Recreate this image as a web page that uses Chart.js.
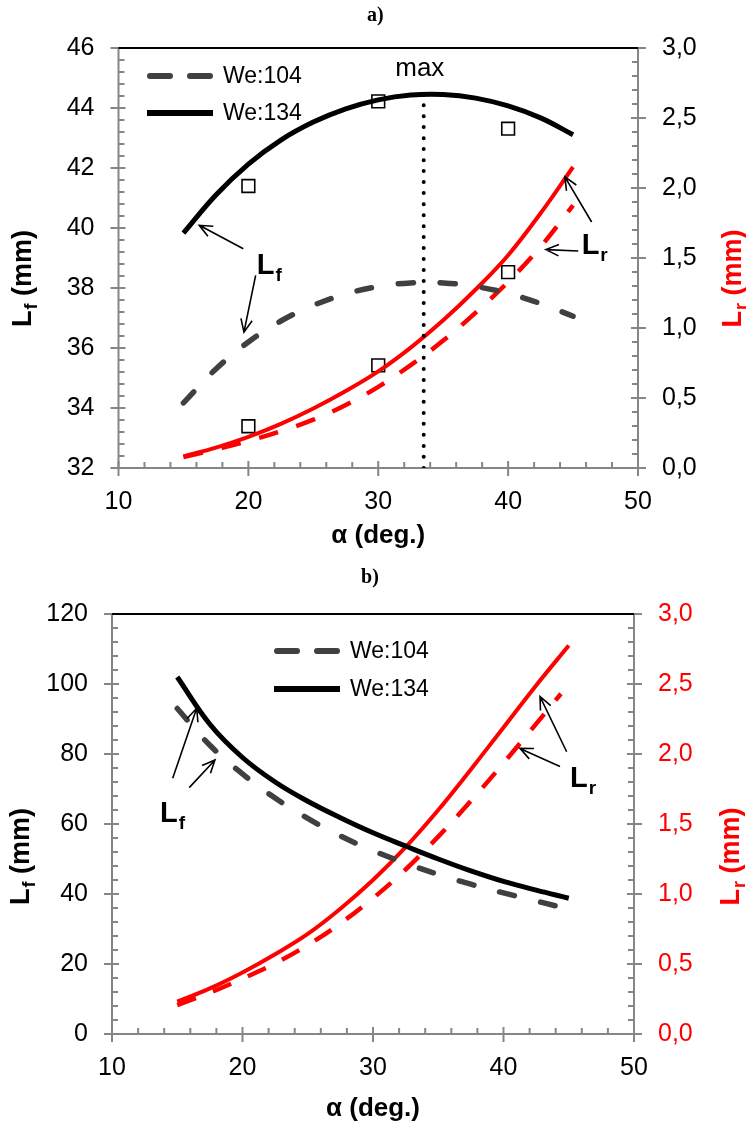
<!DOCTYPE html>
<html>
<head>
<meta charset="utf-8">
<title>L_f and L_r vs alpha</title>
<script src="https://cdn.jsdelivr.net/npm/chart.js@4.4.1/dist/chart.umd.min.js"></script>
<style>
  html, body { margin: 0; padding: 0; background: #fff; }
  #wrap { position: relative; width: 746px; height: 1125px; }
  .box { position: absolute; left: 0; width: 746px; }
  #boxA { top: 0; height: 556px; }
  #boxB { top: 560px; height: 565px; }
</style>
</head>
<body>
<div id="wrap">
  <div class="box" id="boxA"><canvas id="chartA" width="746" height="556"></canvas></div>
  <div class="box" id="boxB"><canvas id="chartB" width="746" height="565"></canvas></div>
</div>
<script>
// ---- data ----
// panel a)
const alphaA = [15, 17.5, 20, 22.5, 25, 27.5, 30, 32.5, 35, 37.5, 40, 42.5, 45];
const lfA104 = [34.17, 35.3, 36.2, 36.9, 37.42, 37.8, 38.05, 38.17, 38.17, 38.05, 37.82, 37.48, 37.06];
const lfA134 = [39.83, 41.1, 42.13, 42.93, 43.53, 43.97, 44.27, 44.43, 44.45, 44.33, 44.07, 43.67, 43.11];
const lrA104 = [0.079, 0.133, 0.193, 0.263, 0.345, 0.45, 0.58, 0.735, 0.91, 1.11, 1.33, 1.58, 1.876];
const lrA134 = [0.083, 0.145, 0.222, 0.315, 0.425, 0.55, 0.69, 0.86, 1.055, 1.275, 1.52, 1.82, 2.15];
const expAlpha = [20, 30, 40];
const expLfA = [41.4, 44.22, 43.31];
const expLrA = [0.298, 0.733, 1.399];
const maxAlpha = 33.5;
const maxLf = [32, 44.36];

// panel b)
const alphaB = [15, 17.5, 20, 22.5, 25, 27.5, 30, 32.5, 35, 37.5, 40, 42.5, 45];
const alphaB104 = [15, 17.5, 20, 22.5, 25, 27.5, 30, 32.5, 35, 37.5, 40, 42.5, 44];
const alphaBr104 = [15, 17.5, 20, 22.5, 25, 27.5, 30, 32.5, 35, 37.5, 40, 42.5, 44.4];
const lfB104 = [93, 82.5, 74.3, 67.4, 61.6, 56.6, 52.4, 48.8, 45.6, 42.8, 40.3, 38.0, 36.6];
const lfB134 = [102, 88.5, 79, 72, 66.5, 61.8, 57.5, 53.7, 50.0, 46.6, 43.6, 41.1, 38.8];
const lrB104 = [0.207, 0.295, 0.395, 0.505, 0.635, 0.79, 0.97, 1.175, 1.41, 1.665, 1.935, 2.215, 2.43];
const lrB134 = [0.231, 0.326, 0.44, 0.57, 0.715, 0.895, 1.10, 1.335, 1.60, 1.89, 2.19, 2.49, 2.775];

// tick settings
const xTicks = { min: 10, max: 50, step: 10, minor: 2 };
const lfTicksA = { min: 32, max: 46, step: 2, minor: 0.4 };
const lfTicksB = { min: 0, max: 120, step: 20, minor: 4 };
const lrTicks = { min: 0, max: 3, step: 0.5, minor: 0.1 };

const FONT = '"Liberation Sans", Arial, Helvetica, sans-serif';
const RED = '#ff0000';
const GREY = '#404040';

function pts(xs, ys) {
  return xs.map(function(x, i) { return { x: x, y: ys[i] }; });
}

function line(ctx, x1, y1, x2, y2) {
  ctx.beginPath();
  ctx.moveTo(x1, y1);
  ctx.lineTo(x2, y2);
  ctx.stroke();
}

// draws "L" + subscript + rest, centred (or left aligned) on x,y
function subText(ctx, main, sub, rest, x, y, size, color, rotate, center) {
  ctx.save();
  ctx.translate(x, y);
  if (rotate) ctx.rotate(-Math.PI / 2);
  const big = 'bold ' + size + 'px ' + FONT;
  const small = 'bold ' + Math.round(size * 0.66) + 'px ' + FONT;
  ctx.font = big;
  const w1 = ctx.measureText(main).width;
  const w3 = ctx.measureText(rest).width;
  ctx.font = small;
  const w2 = ctx.measureText(sub).width;
  let cx = center ? -(w1 + w2 + w3) / 2 : 0;
  const base = center ? size * 0.36 : 0;
  ctx.fillStyle = color;
  ctx.textAlign = 'left';
  ctx.textBaseline = 'alphabetic';
  ctx.font = big;
  ctx.fillText(main, cx, base);
  ctx.font = small;
  ctx.fillText(sub, cx + w1 + 1, base + size * 0.24);
  ctx.font = big;
  ctx.fillText(rest, cx + w1 + w2 + 1, base);
  ctx.restore();
}

function arrow(ctx, x1, y1, x2, y2) {
  const ang = Math.atan2(y2 - y1, x2 - x1);
  const head = 14, spread = 0.42;
  ctx.beginPath();
  ctx.moveTo(x1, y1);
  ctx.lineTo(x2, y2);
  ctx.moveTo(x2 - head * Math.cos(ang - spread), y2 - head * Math.sin(ang - spread));
  ctx.lineTo(x2, y2);
  ctx.lineTo(x2 - head * Math.cos(ang + spread), y2 - head * Math.sin(ang + spread));
  ctx.stroke();
}

// axis lines, crossing major ticks and inner minor ticks
function drawTicks(ctx, scale, t, side, a) {
  const n = Math.round((t.max - t.min) / t.minor);
  for (let i = 0; i <= n; i++) {
    const v = t.min + i * t.minor;
    const r = v / t.step;
    const major = Math.abs(r - Math.round(r)) < 1e-6;
    const p = scale.getPixelForValue(v);
    if (side === 'bottom') {
      if (major) line(ctx, p, a.bottom - 7, p, a.bottom + 8);
      else line(ctx, p, a.bottom - 6, p, a.bottom);
    } else if (side === 'left') {
      if (major) line(ctx, a.left - 8, p, a.left + 7, p);
      else line(ctx, a.left, p, a.left + 6, p);
    } else {
      if (major) line(ctx, a.right - 7, p, a.right + 8, p);
      else line(ctx, a.right - 6, p, a.right, p);
    }
  }
}

const framePlugin = {
  id: 'frame',
  beforeDatasetsDraw: function(chart, args, opts) {
    const ctx = chart.ctx;
    const a = chart.chartArea;
    ctx.save();
    ctx.strokeStyle = '#868686';
    ctx.lineWidth = 2;
    line(ctx, a.left, a.top, a.left, a.bottom);
    line(ctx, a.right, a.top, a.right, a.bottom);
    line(ctx, a.left, a.bottom, a.right, a.bottom);
    drawTicks(ctx, chart.scales.x, xTicks, 'bottom', a);
    drawTicks(ctx, chart.scales.y, opts.lfTicks, 'left', a);
    drawTicks(ctx, chart.scales.y1, lrTicks, 'right', a);
    ctx.strokeStyle = '#000';
    line(ctx, a.left, a.top, a.right, a.top);
    ctx.restore();
  },
  afterDraw: function(chart, args, opts) {
    const ctx = chart.ctx;
    const a = chart.chartArea;
    const sx = chart.scales.x;
    ctx.save();

    // panel label
    ctx.fillStyle = '#000';
    ctx.font = 'bold 20px "Liberation Serif", "Times New Roman", serif';
    ctx.textAlign = 'center';
    ctx.textBaseline = 'middle';
    ctx.fillText(opts.panel, (a.left + a.right) / 2 - 3, opts.panelY);

    // axis titles
    ctx.font = 'bold 26px ' + FONT;
    ctx.fillText('α (deg.)', (a.left + a.right) / 2, a.bottom + opts.xTitleGap);
    const midY = (a.top + a.bottom) / 2 + opts.yTitleShift;
    subText(ctx, 'L', 'f', ' (mm)', opts.leftTitleX, midY, 27, '#000', true, true);
    subText(ctx, 'L', 'r', ' (mm)', opts.rightTitleX, midY, 27, RED, true, true);

    // legend
    const lx = a.left + opts.legendDX;
    let ly = a.top + opts.legendDY;
    chart.data.datasets.forEach(function(ds) {
      if (!ds.legendText) return;
      ctx.save();
      ctx.strokeStyle = ds.borderColor;
      ctx.lineWidth = 6;
      if (ds.borderDash && ds.borderDash.length) {
        ctx.lineCap = 'round';
        ctx.setLineDash([20, 20]);
        line(ctx, lx + 3, ly, lx + 66, ly);
      } else {
        line(ctx, lx, ly, lx + 66, ly);
      }
      ctx.restore();
      ctx.fillStyle = '#000';
      ctx.font = '23px ' + FONT;
      ctx.textAlign = 'left';
      ctx.textBaseline = 'middle';
      ctx.fillText(ds.legendText, lx + 76, ly + 1);
      ly += opts.legendRow;
    });

    // annotations (data coordinates)
    ctx.strokeStyle = '#000';
    ctx.lineWidth = 1.6;
    opts.notes.arrows.forEach(function(n) {
      const sy = chart.scales[n.axis];
      arrow(ctx, sx.getPixelForValue(n.from[0]), sy.getPixelForValue(n.from[1]),
        sx.getPixelForValue(n.to[0]), sy.getPixelForValue(n.to[1]));
    });
    opts.notes.labels.forEach(function(n) {
      const sy = chart.scales[n.axis];
      subText(ctx, 'L', n.sub, '', sx.getPixelForValue(n.x), sy.getPixelForValue(n.y), 29, '#000', false, false);
    });
    if (opts.notes.max) {
      const m = opts.notes.max;
      ctx.fillStyle = '#000';
      ctx.font = '26px ' + FONT;
      ctx.textAlign = 'center';
      ctx.textBaseline = 'middle';
      ctx.fillText('max', sx.getPixelForValue(m.x), chart.scales.y.getPixelForValue(m.y));
    }
    ctx.restore();
  }
};

function lineSet(xs, ys, axis, color, width, dash, cap, legendText) {
  return {
    data: pts(xs, ys),
    yAxisID: axis,
    borderColor: color,
    borderWidth: width,
    borderDash: dash,
    borderCapStyle: cap,
    pointRadius: 0,
    fill: false,
    tension: 0.4,
    legendText: legendText
  };
}

function squareSet(xs, ys, axis) {
  return {
    data: pts(xs, ys),
    yAxisID: axis,
    showLine: false,
    pointStyle: 'rect',
    pointRadius: 9,
    pointBorderWidth: 1.6,
    pointBorderColor: '#000',
    pointBackgroundColor: '#fff'
  };
}

function fixedSize(prop, v) {
  return function(scale) { scale[prop] = v; };
}

function makeOptions(cfg) {
  const tickFont = { family: FONT, size: 25 };
  return {
    responsive: false,
    animation: false,
    events: [],
    layout: { padding: { top: cfg.top, left: 0, right: 0, bottom: 0 } },
    scales: {
      x: {
        type: 'linear', min: xTicks.min, max: xTicks.max,
        grid: { display: false, drawTicks: false }, border: { display: false },
        ticks: { stepSize: xTicks.step, font: tickFont, color: '#000', padding: 19, autoSkip: false, maxRotation: 0 },
        afterFit: fixedSize('height', cfg.xHeight)
      },
      y: {
        position: 'left', min: cfg.lfTicks.min, max: cfg.lfTicks.max,
        grid: { display: false, drawTicks: false }, border: { display: false },
        ticks: { stepSize: cfg.lfTicks.step, font: tickFont, color: '#000', padding: 24, autoSkip: false },
        afterFit: fixedSize('width', cfg.leftWidth)
      },
      y1: {
        position: 'right', min: lrTicks.min, max: lrTicks.max,
        grid: { display: false, drawTicks: false }, border: { display: false },
        ticks: {
          stepSize: lrTicks.step, font: tickFont, color: cfg.rightColor, padding: 24, autoSkip: false,
          callback: function(v) { return v.toFixed(1).replace('.', ','); }
        },
        afterFit: fixedSize('width', cfg.rightWidth)
      }
    },
    plugins: {
      legend: { display: false },
      tooltip: { enabled: false },
      frame: cfg.frame
    }
  };
}

// ---- panel a) ----
new Chart(document.getElementById('chartA'), {
  type: 'line',
  data: {
    datasets: [
      lineSet([maxAlpha, maxAlpha], maxLf, 'y', '#000', 4, [0, 11], 'round'),
      lineSet(alphaA, lfA104, 'y', GREY, 5.5, [15, 27], 'round', 'We:104'),
      lineSet(alphaA, lfA134, 'y', '#000', 5, [], 'butt', 'We:134'),
      lineSet(alphaA, lrA104, 'y1', RED, 4.5, [20, 19], 'butt'),
      lineSet(alphaA, lrA134, 'y1', RED, 4, [], 'butt'),
      squareSet(expAlpha, expLfA, 'y'),
      squareSet(expAlpha, expLrA, 'y1')
    ]
  },
  options: makeOptions({
    top: 48, xHeight: 88, leftWidth: 118.5, rightWidth: 108,
    lfTicks: lfTicksA, rightColor: '#000',
    frame: {
      lfTicks: lfTicksA, panel: 'a)', panelY: 16,
      xTitleGap: 68, yTitleShift: 21, leftTitleX: 21, rightTitleX: 731,
      legendDX: 28.5, legendDY: 28, legendRow: 37,
      notes: {
        arrows: [
          { from: [19.61, 39.31], to: [16.22, 40.09], axis: 'y' },
          { from: [20.56, 38.42], to: [19.66, 36.53], axis: 'y' },
          { from: [46.43, 1.757], to: [44.37, 2.079], axis: 'y1' },
          { from: [45.4, 1.55], to: [42.91, 1.56], axis: 'y1' }
        ],
        labels: [
          { sub: 'f', x: 20.64, y: 38.48, axis: 'y' },
          { sub: 'r', x: 45.66, y: 1.531, axis: 'y1' }
        ],
        max: { x: 33.2, y: 45.29 }
      }
    }
  }),
  plugins: [framePlugin]
});

// ---- panel b) ----
new Chart(document.getElementById('chartB'), {
  type: 'line',
  data: {
    datasets: [
      lineSet(alphaB104, lfB104, 'y', GREY, 5.5, [15, 27], 'round', 'We:104'),
      lineSet(alphaB, lfB134, 'y', '#000', 5, [], 'butt', 'We:134'),
      lineSet(alphaBr104, lrB104, 'y1', RED, 4.5, [20, 18], 'butt'),
      lineSet(alphaB, lrB134, 'y1', RED, 4, [], 'butt')
    ]
  },
  options: makeOptions({
    top: 54, xHeight: 91, leftWidth: 112, rightWidth: 112,
    lfTicks: lfTicksB, rightColor: RED,
    frame: {
      lfTicks: lfTicksB, panel: 'b)', panelY: 18,
      xTitleGap: 75, yTitleShift: 33, leftTitleX: 19, rightTitleX: 729,
      legendDX: 162, legendDY: 37, legendRow: 38,
      notes: {
        arrows: [
          { from: [14.65, 73.05], to: [16.49, 93.06], axis: 'y' },
          { from: [15.92, 70.4], to: [17.89, 78.3], axis: 'y' },
          { from: [44.84, 2.016], to: [42.8, 2.41], axis: 'y1' },
          { from: [44.33, 1.91], to: [41.26, 2.04], axis: 'y1' }
        ],
        labels: [
          { sub: 'f', x: 13.68, y: 60.5, axis: 'y' },
          { sub: 'r', x: 45.1, y: 1.766, axis: 'y1' }
        ]
      }
    }
  }),
  plugins: [framePlugin]
});
</script>
</body>
</html>
